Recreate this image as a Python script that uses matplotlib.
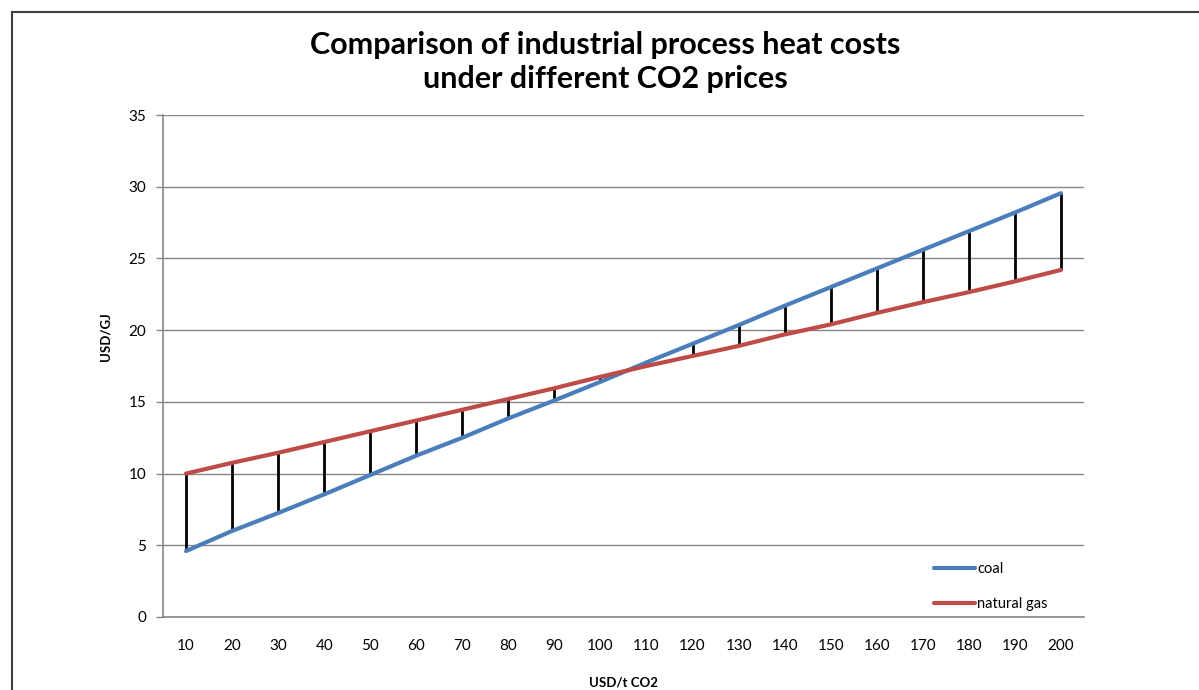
import matplotlib.pyplot as plt
import numpy as np
from matplotlib.patches import Rectangle

plt.rcParams['font.family'] = ['Lato', 'DejaVu Sans']

# CO2 price categories (USD/t CO2)
co2_price = [10, 20, 30, 40, 50, 60, 70, 80, 90, 100,
             110, 120, 130, 140, 150, 160, 170, 180, 190, 200]
# heat cost, USD/GJ
coal = [4.6, 6.0, 7.25, 8.55, 9.9, 11.25, 12.5, 13.85, 15.1, 16.4,
        17.75, 19.05, 20.35, 21.7, 23.0, 24.3, 25.6, 26.9, 28.2, 29.55]
natural_gas = [10.0, 10.75, 11.45, 12.2, 12.95, 13.7, 14.45, 15.2, 15.95, 16.75,
               17.5, 18.2, 18.9, 19.7, 20.4, 21.2, 21.95, 22.65, 23.4, 24.2]

fig = plt.figure(figsize=(11.99, 6.90), dpi=100)
ax = fig.add_axes([163/1199, 1-617/690, (1084-163)/1199, (617-115)/690])

pos = np.arange(len(co2_price))

# high-low lines
ax.vlines(pos, np.minimum(coal, natural_gas), np.maximum(coal, natural_gas),
          color='black', lw=2, zorder=2)
ax.plot(pos, coal, color='#4a7ebb', lw=3, label='coal', zorder=3, solid_capstyle='round')
ax.plot(pos, natural_gas, color='#be4b48', lw=3, label='natural gas', zorder=3, solid_capstyle='round')

ax.set_xlim(-0.5, len(co2_price)-0.5)
ax.set_ylim(0, 35)
ax.set_yticks(range(0, 36, 5))
ax.set_xticks(pos)
ax.set_xticklabels([str(v) for v in co2_price])
ax.tick_params(axis='x', length=0, pad=16, labelsize=11)
ax.tick_params(axis='y', length=5, width=1, color='#868686', pad=7, labelsize=11)
ax.grid(axis='y', color='#868686', lw=1)
ax.set_axisbelow(True)
for s in ['top', 'right']:
    ax.spines[s].set_visible(False)
for s in ['left', 'bottom']:
    ax.spines[s].set_color('#868686')
    ax.spines[s].set_linewidth(1.2)

ax.set_ylabel('USD/GJ', fontsize=9.5, fontweight='bold', va='center')
ax.yaxis.set_label_coords(-0.062, 0.558)
ax.set_xlabel('USD/t CO2', fontsize=9.5, fontweight='bold', va='center')
ax.xaxis.set_label_coords(0.5, -0.13)

leg = ax.legend(loc='lower right', bbox_to_anchor=(0.975, -0.015), frameon=False,
                fontsize=10.5, handlelength=2.8, handletextpad=0.15, labelspacing=1.45)

fig.text(605/1199, 1-62/690, 'Comparison of industrial process heat costs\nunder different CO2 prices',
         ha='center', va='center', fontsize=22, fontweight='bold', linespacing=1.3)

# outer chart border
fig.patches.append(Rectangle((12/1199, -0.1), 1.2, 1-12/690+0.1, transform=fig.transFigure,
                             fill=False, edgecolor='#404040', lw=1.5))

fig.savefig('out.png', dpi=100)
